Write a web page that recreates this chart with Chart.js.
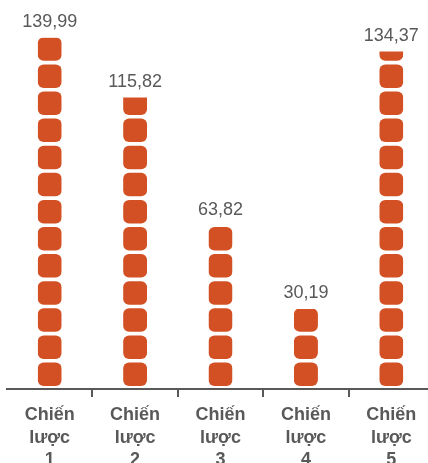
<!DOCTYPE html>
<html><head><meta charset="utf-8">
<script src="https://cdn.jsdelivr.net/npm/chart.js@4/dist/chart.umd.min.js"></script>
<style>
html,body{margin:0;padding:0;overflow:hidden;background:#fff;width:428px;height:463px}
#wrap{position:relative;width:434px;height:463px}
</style></head><body>
<div id="wrap"><canvas id="c"></canvas></div>
<script>
const categories = [["Chiến","lược","1"],["Chiến","lược","2"],["Chiến","lược","3"],["Chiến","lược","4"],["Chiến","lược","5"]];
const values = [139.99, 115.82, 63.82, 30.19, 134.37];
const Y_MIN = -2.2;
const Y_MAX = 150;

const COLOR = '#D35024';
const TEXT = '#595959';
const PITCH = 27.1, SQ = 23.5, RADIUS = 6;

const squaresPlugin = {
  id: 'squares',
  afterDatasetsDraw(chart) {
    const ctx = chart.ctx;
    const meta = chart.getDatasetMeta(0);
    meta.data.forEach((el, i) => {
      const {x, y, base, width} = el.getProps(['x','y','base','width'], true);
      const left = x - width / 2;
      ctx.save();
      ctx.beginPath();
      ctx.rect(left, y, width, base - y);
      ctx.clip();
      ctx.fillStyle = COLOR;
      for (let k = 0; k < 100; k++) {
        const bottom = base - 3 - PITCH * k;
        const top = bottom - SQ;
        if (bottom < y) break;
        ctx.beginPath();
        ctx.roundRect(left, top, width, SQ, RADIUS);
        ctx.fill();
      }
      ctx.restore();
      ctx.save();
      ctx.font = '18px "Liberation Sans", Arial, sans-serif';
      ctx.fillStyle = TEXT;
      ctx.textAlign = 'center';
      ctx.textBaseline = 'alphabetic';
      ctx.fillText(values[i].toFixed(2).replace('.', ','), x, y - 10.5);
      ctx.restore();
    });
  }
};

new Chart(document.getElementById('c'), {
  type: 'bar',
  data: {
    labels: categories,
    datasets: [{
      data: values,
      backgroundColor: 'rgba(0,0,0,0)',
      borderWidth: 0,
      barThickness: 24,
      base: Y_MIN
    }]
  },
  options: {
    responsive: true,
    maintainAspectRatio: false,
    animation: false,
    events: [],
    layout: { padding: { top: 13, left: 7, right: 0, bottom: 0 } },
    plugins: { legend: { display: false }, tooltip: { enabled: false } },
    scales: {
      x: {
        offset: true,
        grid: {
          offset: true,
          drawOnChartArea: false,
          drawTicks: true,
          tickLength: 8,
          tickWidth: 2,
          lineWidth: 2,
          color: (c) => (c.index === 0 ? 'rgba(0,0,0,0)' : TEXT)
        },
        border: { display: true, color: TEXT, width: 2 },
        ticks: {
          color: TEXT,
          autoSkip: false,
          maxRotation: 0,
          padding: 6.5,
          font: { family: '"Liberation Sans", Arial, sans-serif', size: 18, weight: 'bold', lineHeight: 1.265 }
        },
        afterFit(s) { s.height = 74; }
      },
      y: { display: false, min: Y_MIN, max: Y_MAX }
    }
  },
  plugins: [squaresPlugin]
});
</script>
</body></html>
